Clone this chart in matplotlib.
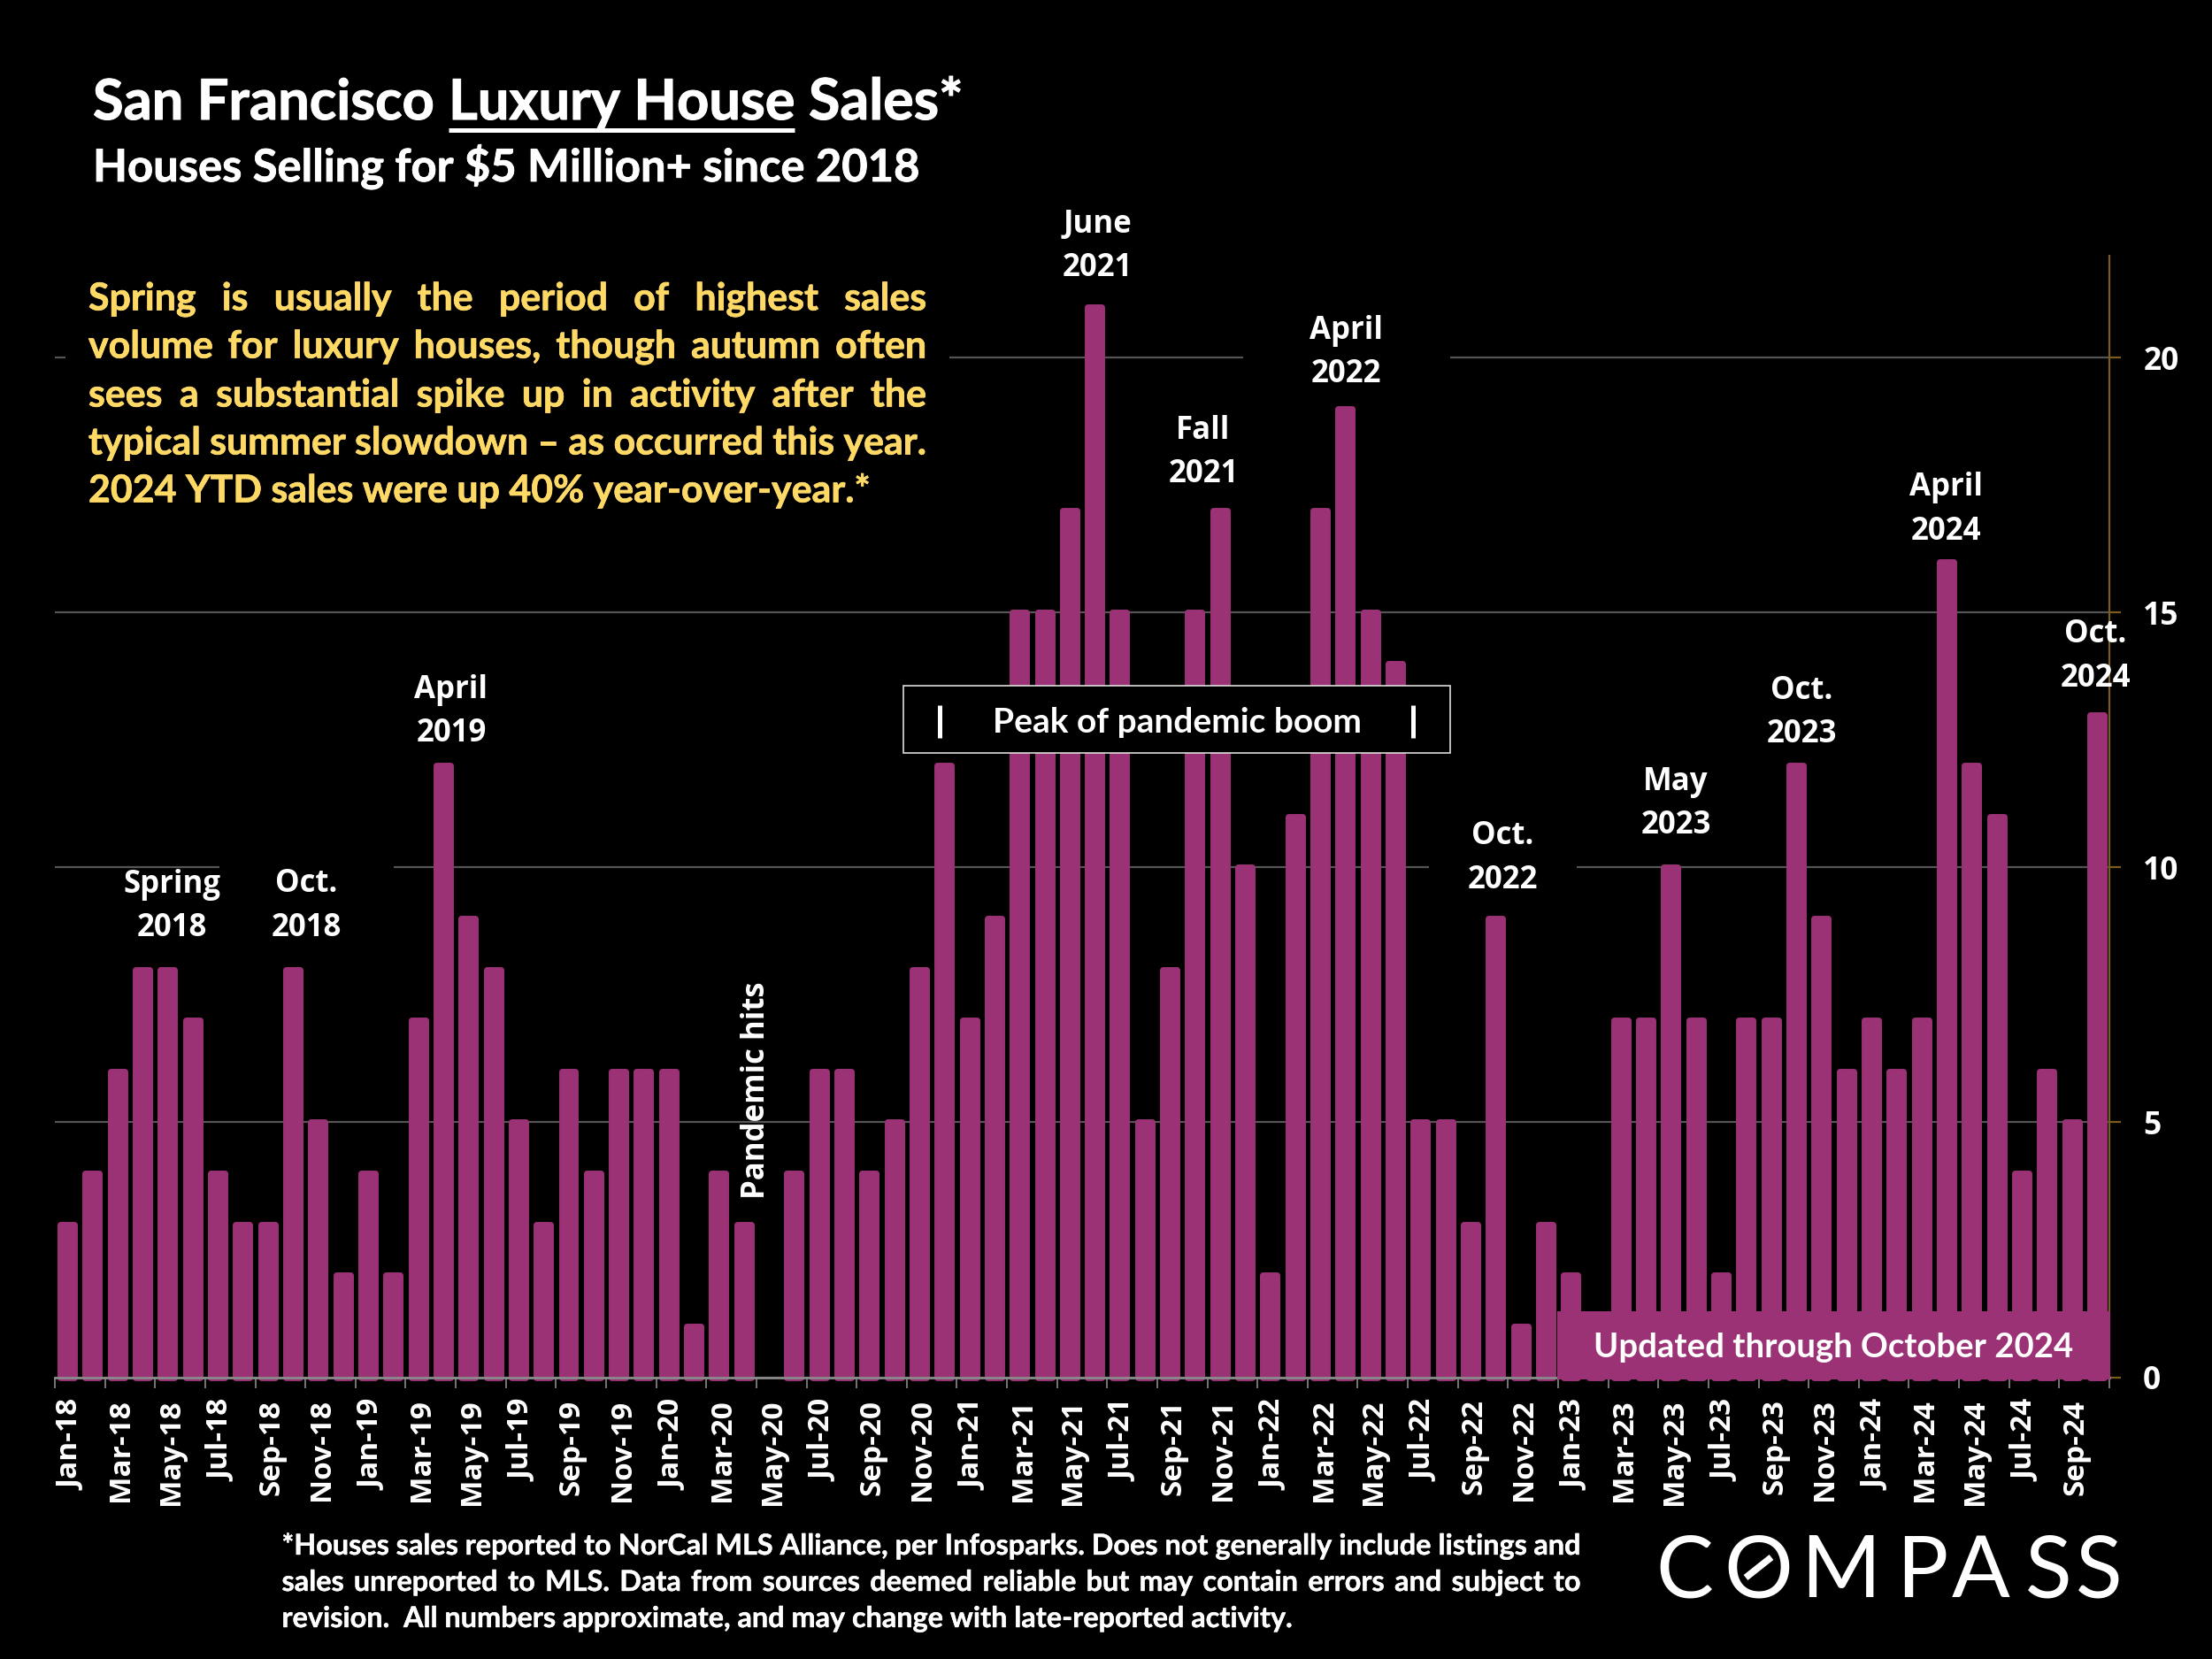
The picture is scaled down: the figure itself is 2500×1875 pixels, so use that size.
import matplotlib
matplotlib.use("Agg")
import matplotlib.pyplot as plt
import matplotlib.patheffects as pe
from matplotlib.patches import Rectangle
from matplotlib.lines import Line2D
from matplotlib.transforms import Affine2D

years = [18, 19, 20, 21, 22, 23, 24]
month_names = ["Jan", "Feb", "Mar", "Apr", "May", "Jun", "Jul", "Aug", "Sep", "Oct", "Nov", "Dec"]
months = [f"{m}-{y}" for y in years for m in month_names][:82]

sales_2018 = [3, 4, 6, 8, 8, 7, 4, 3, 3, 8, 5, 2]
sales_2019 = [4, 2, 7, 12, 9, 8, 5, 3, 6, 4, 6, 6]
sales_2020 = [6, 1, 4, 3, 0, 4, 6, 6, 4, 5, 8, 12]
sales_2021 = [7, 9, 15, 15, 17, 21, 15, 5, 8, 15, 17, 10]
sales_2022 = [2, 11, 17, 19, 15, 14, 5, 5, 3, 9, 1, 3]
sales_2023 = [2, 1, 7, 7, 10, 7, 2, 7, 7, 12, 9, 6]
sales_2024 = [7, 6, 7, 16, 12, 11, 4, 6, 5, 13]
sales = sales_2018 + sales_2019 + sales_2020 + sales_2021 + sales_2022 + sales_2023 + sales_2024

peak_labels = [("Spring", "2018"), ("Oct.", "2018"), ("April", "2019"), ("June", "2021"),
               ("Fall", "2021"), ("April", "2022"), ("Oct.", "2022"), ("May", "2023"),
               ("Oct.", "2023"), ("April", "2024"), ("Oct.", "2024")]

insight_lines = ["Spring is usually the period of highest sales",
                 "volume for luxury houses, though autumn often",
                 "sees a substantial spike up in activity after the",
                 "typical summer slowdown \u2013 as occurred this year.",
                 "2024 YTD sales were up 40% year-over-year.*"]
foot_lines = ["*Houses sales reported to NorCal MLS Alliance, per Infosparks. Does not generally include listings and",
              "sales unreported to MLS. Data from sources deemed reliable but may contain errors and subject to",
              "revision.  All numbers approximate, and may change with late-reported activity."]

W, H = 2500, 1875
BAR = "#9C3276"
SANS = "Lato"
OPEN = "Open Sans"

fig = plt.figure(figsize=(25, 18.75), dpi=100, facecolor="black")
L, R, B, T = 62, 2384, 1556.5, 289
ax = fig.add_axes([L / W, 1 - B / H, (R - L) / W, (B - T) / H], facecolor="black")
px = Affine2D().scale(1 / W, -1 / H).translate(0, 1) + fig.transFigure

x = list(range(len(sales)))
ax.bar(x, sales, width=0.565, color=BAR, edgecolor=[BAR if v else "none" for v in sales],
       linewidth=5.0, joinstyle="round", zorder=2, clip_on=False)
ax.set_xlim(-0.5, 81.5)
ax.set_ylim(0, 22)

# axes furniture
for s in ("left", "top"):
    ax.spines[s].set_visible(False)
ax.spines["right"].set_color("#7A5C1E")
ax.spines["right"].set_linewidth(1.6)
ax.spines["bottom"].set_color("#8A8A8A")
ax.spines["bottom"].set_linewidth(2.0)
ax.spines["bottom"].set_zorder(3)

ax.set_axisbelow(True)
ax.yaxis.tick_right()
ax.set_yticks([0, 5, 10, 15, 20])
ax.tick_params(axis="y", which="major", colors="#7A5C1E", length=9.5, width=1.6, pad=18,
               labelcolor="white", labelsize=25.5)
for t in ax.get_yticklabels():
    t.set_fontfamily(OPEN)
    t.set_fontweight("bold")
ax.yaxis.grid(True, color="#555555", linewidth=1.6)
ax.xaxis.grid(False)

ax.set_xticks([i - 0.5 for i in range(0, 83, 2)])
ax.set_xticklabels([])
ax.tick_params(axis="x", which="major", color="#8A8A8A", length=8.5, width=1.2)
ax.set_xticks(x[::2], minor=True)
ax.set_xticklabels(months[::2], minor=True, rotation=90, ha="center", va="top",
                   fontsize=24, color="white", fontfamily=OPEN, fontweight="bold")
ax.tick_params(axis="x", which="minor", length=0, pad=18)
for t in ax.get_xticklabels(minor=True):
    t.set_transform(t.get_transform() + Affine2D().translate(4, 0))

# black text backgrounds hiding the gridlines
for x0, x1, y0, y1 in [(74, 1073, 330, 585), (248, 445, 960, 1060),
                       (1405, 1639, 350, 440), (1615, 1782, 930, 1010)]:
    ax.add_patch(Rectangle((x0, y0), x1 - x0, y1 - y0, transform=px, facecolor="black",
                           edgecolor="none", zorder=1, clip_on=False))

# overlay
ov = fig.add_axes([0, 0, 1, 1], zorder=5)
ov.set_xlim(0, W)
ov.set_ylim(H, 0)
ov.axis("off")
ov.patch.set_visible(False)
rend = fig.canvas.get_renderer()


def thick(color, lw):
    return [pe.withStroke(linewidth=lw, foreground=color)]


def width(s, size, weight="bold", fam=SANS):
    t = ov.text(0, 0, s, fontsize=size, fontweight=weight, family=fam)
    w = t.get_window_extent(rend).width
    t.remove()
    return w


def fit_size(lines, target, size, weight="bold"):
    worst = max(width(l, size, weight) for l in lines)
    return size * target / worst if worst > target else size


def justified(lines, x0, x1, baselines, size, color, stroke, weight="bold"):
    for i, (line, y) in enumerate(zip(lines, baselines)):
        if i == len(lines) - 1:
            ov.text(x0, y, line, fontsize=size, fontweight=weight, family=SANS, color=color,
                    ha="left", va="baseline", path_effects=thick(color, stroke))
            continue
        words = line.split()
        ws = [width(w, size, weight) for w in words]
        gap = (x1 - x0 - sum(ws)) / (len(words) - 1)
        cx = x0
        for w, wd in zip(words, ws):
            ov.text(cx, y, w, fontsize=size, fontweight=weight, family=SANS, color=color,
                    ha="left", va="baseline", path_effects=thick(color, stroke))
            cx += wd + gap


# title
for s, xp, ttl in [("San Francisco", 105, 45.5), ("Luxury House", 507, 45.5), ("Sales*", 914, 46.5)]:
    ov.text(xp, 135, s, fontsize=ttl, fontweight="bold", family=SANS, color="white",
            ha="left", va="baseline", path_effects=thick("white", 0.8))
ov.add_line(Line2D([507, 897.5], [146.5, 146.5], color="white", linewidth=3.6, solid_capstyle="butt"))
ov.text(105, 205, "Houses Selling for $5 Million+ since 2018", fontsize=36.5,
        fontweight="bold", family=SANS, color="white", ha="left", va="baseline",
        path_effects=thick("white", 0.6))

# insight paragraph
ins = fit_size(insight_lines[:4], 947, 31)
justified(insight_lines, 100, 1047, [350.5, 404.5, 459.5, 513.5, 567.5], ins, "#FFD966", 0.5)

# footnote
fs = fit_size(foot_lines[:2], 1468, 24)
justified(foot_lines, 318.5, 1786.5, [1757, 1798, 1839], fs, "white", 0.3)

# peak labels
label_x = [194.5, 346, 510, 1240, 1360, 1521, 1698, 1894, 2036, 2199, 2368]
label_y = [1008.5, 1008.5, 788.5, 262.5, 495.5, 382.5, 954.5, 892.5, 789.5, 560, 726.5]
for (a, b), lx, ly in zip(peak_labels, label_x, label_y):
    ov.text(lx, ly, a, fontsize=25, fontweight="bold", family=OPEN, color="white",
            ha="center", va="baseline")
    ov.text(lx, ly + 49.5, b, fontsize=25, fontweight="bold", family=OPEN, color="white",
            ha="center", va="baseline")

ov.text(855, 1232.5, "Pandemic hits", fontsize=25, fontweight="bold", family=OPEN, color="white",
        rotation=90, ha="center", va="center")

# Peak box
ov.add_patch(Rectangle((1020.5, 775), 618.5, 76, facecolor="black", edgecolor="#DDDDDD", linewidth=1.2))
ov.text(1330, 827.5, "Peak of pandemic boom", fontsize=28, fontweight="bold", family=SANS, color="white",
        ha="center", va="baseline")
for xp in (1062, 1596.5):
    ov.add_line(Line2D([xp, xp], [797, 834], color="white", linewidth=3.6, solid_capstyle="butt"))

# Updated box
ov.add_patch(Rectangle((1760, 1481.5), 625, 77, facecolor=BAR, edgecolor="none"))
ov.text(2072, 1534, "Updated through October 2024", fontsize=27.5, fontweight="bold", family=SANS,
        color="white", ha="center", va="baseline")

# logo
for ch, xp in zip("COMPASS", [1904, 1987.5, 2080, 2172, 2239, 2315, 2372]):
    ov.text(xp, 1805, ch, fontsize=70, fontweight="normal", family=SANS, color="white",
            ha="center", va="baseline")
ov.add_line(Line2D([1973, 2002], [1783, 1760], color="white", linewidth=5.5, solid_capstyle="butt"))

fig.savefig("out.png", dpi=100, facecolor="black")
